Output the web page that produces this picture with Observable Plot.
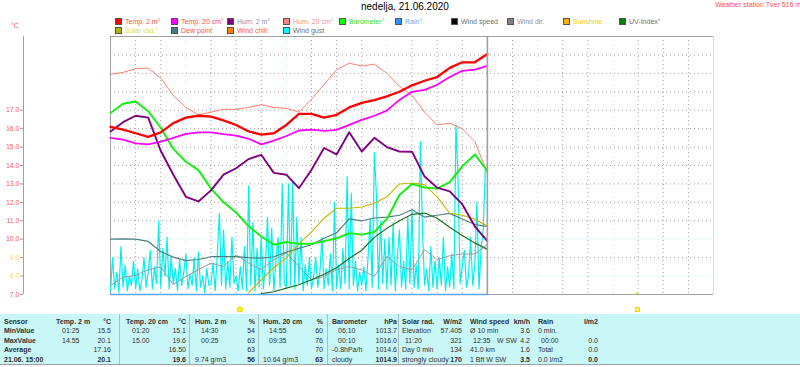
<!DOCTYPE html>
<html><head><meta charset="utf-8">
<script src="https://cdn.jsdelivr.net/npm/d3@7"></script>
<script src="https://cdn.jsdelivr.net/npm/@observablehq/plot@0.6"></script>
<style>
body{margin:0;background:#fff;font-family:"Liberation Sans",Arial,sans-serif;}
#wrap{position:relative;width:800px;height:367px;overflow:hidden;background:#fff;}
#wrap svg{position:absolute;left:0;top:0;}
.title{position:absolute;top:1px;left:361px;font-size:10px;color:#000;white-space:nowrap;}
.station{position:absolute;top:1px;left:715px;font-size:7px;color:#ff5050;white-space:nowrap;}
.unit{position:absolute;top:22px;left:11px;font-size:7px;color:#f06060;}
.leg{position:absolute;font-size:7px;white-space:nowrap;line-height:8px;}
.leg i{display:inline-block;width:5px;height:5px;border:1px solid #555;margin-right:3px;vertical-align:-1px;}
#table{position:absolute;left:0;top:314px;width:800px;height:50px;background:#c9f7f7;border-bottom:1px solid #a0a0a0;font-size:7px;color:#303030;}
#table span{position:absolute;white-space:nowrap;line-height:9px;}
#table .b{font-weight:bold;}
#table .sep{position:absolute;top:0;width:1px;height:50px;background:#a8c0c0;}
</style></head>
<body><div id="wrap"></div>
<script>
// ---------- chart data (values in the chart's y units, time in hours) ----------
const hours = [0,0.5,1,1.5,2,2.5,3,3.5,4,4.5,5,5.5,6,6.5,7,7.5,8,8.5,9,9.5,10,10.5,11,11.5,12,12.5,13,13.5,14,14.5,15];
const temp2m  = [16.1,15.95,15.75,15.55,15.8,16.3,16.6,16.7,16.65,16.45,16.2,15.85,15.68,15.75,16.2,16.8,16.8,16.6,16.75,17.15,17.4,17.55,17.75,18.0,18.35,18.6,18.8,19.3,19.6,19.6,20.05];
const temp20cm = [15.5,15.4,15.2,15.15,15.3,15.5,15.72,15.8,15.8,15.7,15.62,15.45,15.15,15.35,15.6,15.9,15.95,15.88,15.93,16.2,16.48,16.7,16.98,17.56,18.0,18.1,18.38,18.8,19.14,19.2,19.4];
const hum2m   = [15.85,16.35,16.7,16.6,14.8,13.5,12.3,12.05,12.65,13.5,13.85,14.35,14.58,13.6,13.5,12.77,13.77,14.95,14.6,15.8,14.76,15.5,15.0,14.76,14.75,13.4,12.8,12.6,11.9,10.7,9.9];
const hum20cm = [18.95,19.05,19.25,19.28,18.75,17.8,17.15,16.75,16.9,17.05,17.05,17.15,17.3,17.15,17.1,16.9,17.6,18.4,19.2,19.55,19.4,19.5,19.0,18.3,17.8,16.9,16.2,16.3,16.0,15.3,13.6];
const barometer = [16.85,17.35,17.47,16.95,16.05,14.9,14.2,13.75,12.75,12.0,11.45,10.7,10.15,9.7,9.85,9.75,9.75,9.9,10.05,10.33,10.25,10.4,11.1,12.4,13.0,12.8,12.75,13.1,13.95,14.6,13.7];
const solarRad = [null,null,null,null,null,null,null,null,null,null,null,7.1,7.8,8.45,9.0,9.75,10.4,11.14,11.68,11.68,11.75,11.95,12.3,13.0,13.05,12.95,12.3,11.41,11.3,11.1,10.7];
const dewPoint = [10.0,10.02,10.0,9.88,9.33,9.03,8.84,8.9,9.05,9.05,9.05,9.0,8.97,9.05,9.3,9.5,9.7,10.05,10.35,11.1,11.0,11.15,11.2,11.3,11.6,11.2,11.3,11.4,11.1,10.8,10.7];
const uvIndex = [null,null,null,null,null,null,null,null,null,null,null,null,7.05,7.15,7.35,7.53,7.8,8.1,8.45,8.95,9.4,10.1,10.6,11.0,11.35,11.42,11.14,10.65,10.2,9.8,9.45];
const windDir = [7.49,7.94,8.03,8.35,8.5,7.54,7.98,8.35,8.7,8.52,9.15,8.7,8.34,8.88,9.24,8.52,7.8,7.98,8.34,8.52,8.34,7.98,9.06,8.52,8.34,9.43,8.9,9.1,9.2,9.2,9.7];
// wind gust, 5-minute samples, one row per hour
const windGust = [
 [7.2,9.0,7.3,8.2,7.1,9.6,7.4,8.6,7.2,8.0,7.5,8.8],
 [7.3,8.4,7.2,7.8,9.0,7.4,8.2,9.4,7.3,8.5,7.6,11.0],
 [7.4,9.5,8.0,10.1,7.3,9.0,7.6,8.4,7.2,8.9,7.5,8.2],
 [9.2,7.3,8.1,7.5,9.0,7.2,9.3,7.4,8.0,7.1,8.4,7.5],
 [7.6,8.7,7.2,9.2,11.4,7.5,10.5,7.3,8.8,7.4,10.1,7.6],
 [8.0,7.2,8.5,7.3,9.6,7.2,12.9,7.5,10.9,7.2,9.5,7.4],
 [10.1,7.3,8.6,11.2,7.5,10.6,7.2,8.8,10.1,7.4,13.0,7.6],
 [7.4,13.0,7.5,13.2,7.3,11.2,7.6,10.1,7.2,8.6,7.5,9.0],
 [7.3,8.0,9.0,7.4,8.2,10.1,7.3,8.4,7.5,9.2,7.2,12.0],
 [7.4,8.6,7.3,9.5,7.6,13.4,7.3,12.5,7.5,8.8,7.2,8.2],
 [7.5,8.5,7.2,9.0,11.1,7.4,14.7,12.4,7.3,11.0,7.6,10.0],
 [7.3,10.1,7.5,10.9,7.2,9.0,10.5,7.4,8.8,7.3,11.2,7.6],
 [11.6,7.4,8.6,7.3,15.3,10.5,7.5,8.4,7.2,9.6,7.4,8.8],
 [7.3,9.0,7.5,10.1,7.2,8.5,7.4,9.2,7.3,16.2,13.2,7.6],
 [8.5,9.4,7.4,8.0,10.1,7.5,8.6,12.0,7.3,9.5,10.5,13.8],
 [13.7]
];
const rainHours = [0, 15];
const rainMm = [0, 0];
const sunHours = [5.15, 20.97];          // sunrise, sunset
const sunKinds = ["rise", "set"];
const nowHour = 15;
const yTickValues = [7,8,9,10,11,12,13,14,15,16,17];
const gridTemps = [8,9,10,11,12,13,14,15,16,17,18,19,20];
const gridHours = [1,2,3,4,5,6,7,8,9,10,11,12,13,14,15,16,17,18,19,20,21,22,23];
const lightTemps = [8,10];
const lightHours = [3,7,11,17,20];

// ---------- legend ----------
const legendNames = ["Temp. 2 m°","Temp. 20 cm°","Hum. 2 m°","Hum. 20 cm°","Barometer°","Rain°","Wind speed","Wind dir.","Sunshine","UV-Index°","Solar rad.°","Dew point","Wind chill","Wind gust"];
const legendSwatch = ["#ff0000","#ff00ff","#800080","#ff8080","#00ff00","#3090ff","#000000","#808080","#ffb000","#008000","#b0b000","#408080","#ff8000","#00ffff"];
const legendText = ["#ff5050","#ff5050","#9090b0","#f09090","#30e030","#60b0ff","#707070","#909090","#f0d000","#707070","#e0e040","#ff5050","#ff6040","#707070"];

// ---------- table ----------
const tableCols  = ["Temp. 2 m","Temp. 20 cm","Hum. 2 m","Hum. 20 cm","Barometer","Solar rad.","Wind speed","Rain"];
const tableUnits = ["°C","°C","%","%","hPa","W/m2","km/h","l/m2"];
const rowNames   = ["Sensor","MinValue","MaxValue","Average","21.06. 15:00"];
const minLabels  = ["01:25","01:20","14:30","14:55","06:10","Elevation","Ø 10 min","0 min."];
const minValues  = ["15.5","15.1","54","60","1013.7","57.405","3.6",""];
const maxLabels  = ["14.55","15.00","00:25","09:35","00:10","11:20","12:35","00:00"];
const maxValues  = ["20.1","19.6","63","76","1016.0","321","4.2","0.0"];
const maxMid     = ["","","","","","","W SW",""];
const avgLabels  = ["","","","","-0.8hPa/h","Day 0 min","41.0 km","Total"];
const avgValues  = ["17.16","16.50","63","70","1014.6","134","1.6","0.0"];
const curLabels  = ["","","9.74 g/m3","10.64 g/m3","cloudy","strongly cloudy","1 Bft W SW","0.0 l/m2"];
const curValues  = ["20.1","19.6","56","63","1014.9","170","3.5","0.0"];

// ---------- build ----------
const wrap = document.getElementById("wrap");
const series = [
  {vals: windDir,  color: "#9a9a9a", w: 1},
  {vals: dewPoint, color: "#4f8080", w: 1.2},
  {vals: uvIndex,  color: "#1f6f1f", w: 1.2},
  {vals: solarRad, color: "#c8b400", w: 1.1},
  {vals: hum20cm,  color: "#ff7f6a", w: 1},
  {vals: barometer,color: "#10f010", w: 1.9},
  {vals: hum2m,    color: "#800080", w: 1.9},
  {vals: temp20cm, color: "#ff00ff", w: 1.8},
  {vals: temp2m,   color: "#ff0000", w: 2.3}
];
const gustData = windGust.flatMap((row, hr) => row.map((v, i) => ({h: hr + i / 12, v})));
const rainData = rainHours.map((h, i) => ({h, v: 7 + rainMm[i]}));
const sunData = sunHours.map((h, i) => ({h, kind: sunKinds[i]}));

const chart = Plot.plot({
  width: 800, height: 312,
  marginLeft: 110, marginRight: 87, marginTop: 36, marginBottom: 18,
  x: {domain: [0, 24], axis: null},
  y: {domain: [7, 21], axis: null},
  color: {type: "identity"},
  style: {background: "transparent", fontFamily: "Liberation Sans, Arial, sans-serif", overflow: "visible"},
  marks: [
    Plot.ruleY(gridTemps, {y: d => d, stroke: d => lightTemps.includes(d) ? "#b4f0f0" : "#a0a0a0", strokeDasharray: "1,3", strokeWidth: 1}),
    Plot.ruleX(gridHours, {x: d => d, stroke: d => lightHours.includes(d) ? "#b4f0f0" : "#a0a0a0", strokeDasharray: "1,3", strokeWidth: 1}),
    Plot.ruleY([21], {stroke: "#a0a0a0"}),
    Plot.ruleY([7], {stroke: "#a0a0a0"}),
    Plot.ruleX([0], {stroke: "#a0a0a0"}),
    Plot.ruleX([24], {stroke: "#b4f0f0"}),
    Plot.line(gustData, {x: "h", y: "v", stroke: "#00f0f0", strokeWidth: 1.2}),
    ...series.map(s => Plot.line(hours.map((h, i) => ({h, v: s.vals[i]})), {x: "h", y: "v", stroke: s.color, strokeWidth: s.w, strokeLinejoin: "round"})),
    Plot.line(rainData, {x: "h", y: "v", stroke: "#5aa8f0", strokeWidth: 1.5}),
    Plot.ruleX([nowHour], {stroke: "#a0a0a0", strokeWidth: 1.6}),
    // left temperature axis
    Plot.ruleX([0], {dx: -87, stroke: "#a0a0a0"}),
    Plot.ruleY(yTickValues, {y: d => d, dx: -90, insetRight: 600, stroke: "#a0a0a0"}),
    Plot.text(yTickValues, {y: d => d, text: d => d.toFixed(1), frameAnchor: "left", dx: -91, textAnchor: "end", fontSize: 7, fill: d => (d === 8 || d === 9) ? "#e8e070" : "#f06060"}),
    // sunrise / sunset
    Plot.dot(sunData.filter(d => d.kind === "rise"), {x: "h", frameAnchor: "bottom", dy: 15, r: 2.2, fill: "#ffff00", stroke: "#f0e000"}),
    Plot.dot(sunData.filter(d => d.kind === "set"), {x: "h", frameAnchor: "bottom", dy: 15, r: 2, symbol: "square", fill: "none", stroke: "#f0e000"}),
    Plot.ruleX(sunData.filter(d => d.kind === "set"), {x: "h", y1: 7, y2: 7.12, stroke: "#f0e000", strokeWidth: 2})
  ]
});
wrap.appendChild(chart);

function add(cls, text, css, parent) {
  const el = document.createElement(parent ? "span" : "div");
  if (cls) el.className = cls;
  el.textContent = text;
  Object.assign(el.style, css || {});
  (parent || wrap).appendChild(el);
  return el;
}
add("title", "nedelja, 21.06.2020");
add("station", "Weather station Tver 516 m");
add("unit", "°C");
legendNames.forEach((name, i) => {
  const row = i < 10 ? 0 : 1, col = i < 10 ? i : i - 10;
  const el = document.createElement("div");
  el.className = "leg";
  el.style.left = (115 + 56 * col) + "px";
  el.style.top = (18 + 9 * row) + "px";
  el.style.color = legendText[i];
  const sw = document.createElement("i");
  sw.style.background = legendSwatch[i];
  el.appendChild(sw);
  el.appendChild(document.createTextNode(name));
  wrap.appendChild(el);
});

// table
const table = document.createElement("div");
table.id = "table";
wrap.appendChild(table);
const colLeft  = [56, 126, 195, 263, 332, 402, 470, 538];
const colRight = [111, 186, 255, 323, 397, 462, 530, 598];
const rowTop = r => 3 + r * 9.4;
[119, 189, 258, 327, 398].forEach(x => { const s = document.createElement("div"); s.className = "sep"; s.style.left = x + "px"; table.appendChild(s); });
rowNames.forEach((n, r) => add("b", n, {left: "4px", top: rowTop(r) + "px"}, table));
function cell(text, r, x, right, bold) {
  if (!text) return;
  const css = {top: rowTop(r) + "px"};
  if (right) css.right = (800 - x) + "px"; else css.left = x + "px";
  add(bold ? "b" : "", text, css, table);
}
const isTime = s => /^\d\d[:.]\d\d$/.test(s);
tableCols.forEach((c, i) => {
  const L = colLeft[i], R = colRight[i];
  const ind = s => isTime(s) ? (i < 5 ? 6 : 3) : 0;
  cell(c, 0, L, false, true); cell(tableUnits[i], 0, R, true, true);
  cell(minLabels[i], 1, L + ind(minLabels[i])); cell(minValues[i], 1, R, true);
  cell(maxLabels[i], 2, L + ind(maxLabels[i])); cell(maxValues[i], 2, R, true);
  cell(maxMid[i], 2, L + 27);
  cell(avgLabels[i], 3, L); cell(avgValues[i], 3, R, true);
  cell(curLabels[i], 4, L); cell(curValues[i], 4, R, true, true);
});
</script>
</body></html>
